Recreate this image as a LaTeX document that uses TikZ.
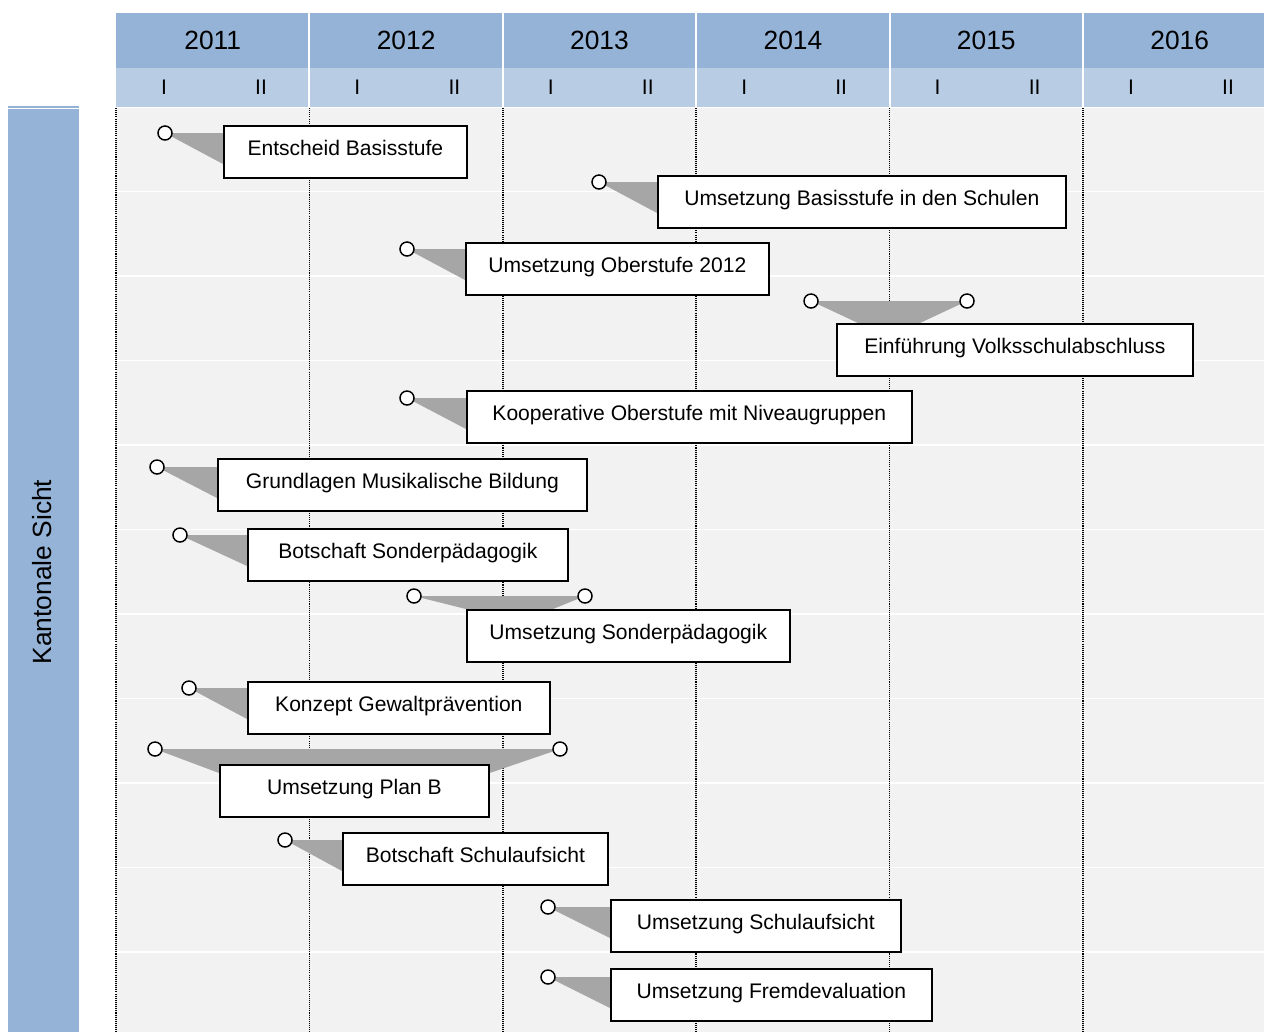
\documentclass[tikz,border=0pt]{standalone}
\usepackage{fontspec}
\setmainfont{Liberation Sans}
\usetikzlibrary{calc}

\definecolor{yearblue}{HTML}{95B3D7}
\definecolor{halfblue}{HTML}{B8CCE4}
\definecolor{gridgray}{HTML}{F2F2F2}
\definecolor{wedgegray}{HTML}{A6A6A6}

\pgfdeclarelayer{back}
\pgfdeclarelayer{mid}
\pgfsetlayers{back,mid,main}

\tikzset{
  task/.style={draw=black, line width=1pt, fill=white, anchor=north west, inner sep=0pt,
    minimum height=1.04cm, text height=0.75em, text depth=0.3em, font=\fontsize{12}{14}\selectfont},
  dot/.style={circle, draw=black, line width=0.85pt, fill=white, inner sep=0pt, minimum size=0.28cm},
  wedge/.style={fill=wedgegray},
  yearline/.style={black, dash pattern=on 0.6pt off 0.6pt, line width=0.9pt},
}

\begin{document}
\begin{tikzpicture}[x=0.02cm, y=-0.02cm]
\useasboundingbox (0,0) rectangle (1264,1032);
\clip (0,0) rectangle (1264,1032);

\begin{pgfonlayer}{back}
    % Side label
    \fill[yearblue] (8,109) rectangle (79,1032);
    \draw[yearblue, line width=0.6pt] (8,107) -- (79,107);
    \node[rotate=90, font=\fontsize{15}{18}\selectfont] (side) at (42,572) {Kantonale Sicht};

    % Chart area with row lines
    \fill[gridgray] (116,108) rectangle (1264,1032);
    \foreach \k in {1,...,10}
        \draw[white, line width=1pt] (116,107+84.5*\k) -- (1264,107+84.5*\k);

    % Header: years and half years
    \foreach \yr [count=\i from 0] in {2011,...,2016} {
        \pgfmathsetmacro{\xa}{116+193.4*\i}
        \fill[yearblue] (\xa,13) rectangle ++(193.4,55);
        \fill[halfblue] (\xa,68) rectangle ++(193.4,39);
        \node[font=\fontsize{15}{18}\selectfont] (y\yr) at (\xa+96.7,40) {\yr};
        \node[font=\fontsize{12}{14}\selectfont] (hA\yr) at (\xa+48,87) {I};
        \node[font=\fontsize{12}{14}\selectfont] (hB\yr) at (\xa+145,87) {II};
    }
    \foreach \i in {1,...,5}
        \draw[white, line width=1.2pt] (116+193.4*\i,13) -- (116+193.4*\i,107); % year separators
    \foreach \i in {0,...,5}
        \draw[yearline] (116+193.4*\i,108) -- (116+193.4*\i,1032); % year boundaries
\end{pgfonlayer}

% Tasks
\node[dot] (d1) at (165,133) {};
\node[task, minimum width=4.86cm] (t1) at (223,125) {Entscheid Basisstufe};

\node[dot] (d2) at (599,182) {};
\node[task, minimum width=8.16cm] (t2) at (657,175) {Umsetzung Basisstufe in den Schulen};

\node[dot] (d3) at (407,249) {};
\node[task, minimum width=6.06cm] (t3) at (465,242) {Umsetzung Oberstufe 2012};

\node[dot] (d4a) at (811,301) {};
\node[dot] (d4b) at (967,301) {};
\node[task, minimum width=7.12cm] (t4) at (836,323) {Einführung Volksschulabschluss};

\node[dot] (d5) at (407,398) {};
\node[task, minimum width=8.90cm] (t5) at (466,390) {Kooperative Oberstufe mit Niveaugruppen};

\node[dot] (d6) at (157,467) {};
\node[task, minimum width=7.38cm] (t6) at (217,458) {Grundlagen Musikalische Bildung};

\node[dot] (d7) at (180,535) {};
\node[task, minimum width=6.40cm] (t7) at (247,528) {Botschaft Sonderpädagogik};

\node[dot] (d8a) at (414,596) {};
\node[dot] (d8b) at (585,596) {};
\node[task, minimum width=6.46cm] (t8) at (466,609) {Umsetzung Sonderpädagogik};

\node[dot] (d9) at (189,688) {};
\node[task, minimum width=6.04cm] (t9) at (247,681) {Konzept Gewaltprävention};

\node[dot] (d10a) at (155,749) {};
\node[dot] (d10b) at (560,749) {};
\node[task, minimum width=5.38cm] (t10) at (219,764) {Umsetzung Plan B};

\node[dot] (d11) at (285,840) {};
\node[task, minimum width=5.30cm] (t11) at (342,832) {Botschaft Schulaufsicht};

\node[dot] (d12) at (548,907) {};
\node[task, minimum width=5.80cm] (t12) at (610,899) {Umsetzung Schulaufsicht};

\node[dot] (d13) at (548,977) {};
\node[task, minimum width=6.42cm] (t13) at (610,968) {Umsetzung Fremdevaluation};

% Wedges from the dots to the tasks
\begin{pgfonlayer}{mid}
    \foreach \n in {1,2,3,5,6,7,9,11,12,13}
        \fill[wedge] (d\n.center) -- (d\n.center -| t\n.west) -- ++(0,31) -- cycle;
    \fill[wedge] (d4a.center) -- (d4b.center) -- ($(t4.north west)+(84,0)$) -- ($(t4.north west)+(22,0)$) -- cycle;
    \fill[wedge] (d8a.center) -- (d8b.center) -- ($(t8.north west)+(87,0)$) -- (t8.north west) -- cycle;
    \fill[wedge] (d10a.center) -- (d10b.center) -- ($(t10.north east)+(0,9)$) -- ($(t10.north west)+(0,9)$) -- cycle;
\end{pgfonlayer}
\end{tikzpicture}
\end{document}
